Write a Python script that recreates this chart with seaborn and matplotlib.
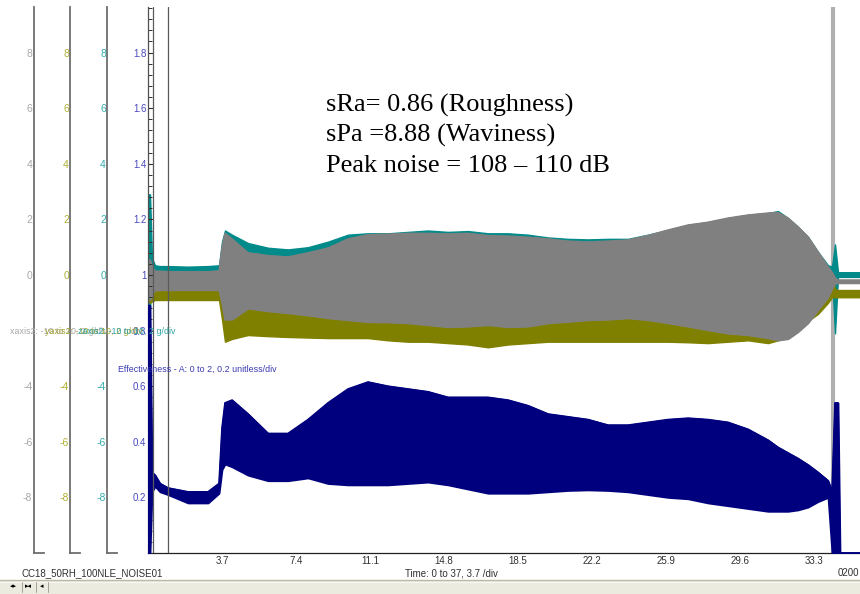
import matplotlib
matplotlib.use("Agg")
import matplotlib.pyplot as plt
import seaborn as sns
import pandas as pd
from matplotlib.ticker import FixedLocator, MultipleLocator, FuncFormatter
from matplotlib.patches import Rectangle
from matplotlib.lines import Line2D

# ---------------- data ----------------
time_s = [0.0, 0.1, 0.2, 0.35, 0.6, 1, 2, 3, 3.55, 3.7, 3.85, 4.2, 5, 6, 7, 8, 9, 10,
          11, 12, 13, 14, 15, 16, 17, 18, 19, 20, 21, 22, 23, 24, 25, 26, 27, 28, 29,
          30, 31, 31.5, 32, 32.5, 33, 33.5, 34, 34.2, 34.35, 34.5, 34.6, 35, 35.6]

# channel "z" (teal), -10..10
teal_hi = [2.9, 2.9, 0.6, 0.35, 0.32, 0.32, 0.3, 0.32, 0.35, 1.2, 1.6, 1.45, 1.15, 0.98,
           0.92, 1.0, 1.2, 1.45, 1.5, 1.5, 1.55, 1.6, 1.55, 1.58, 1.5, 1.5, 1.45, 1.35,
           1.3, 1.28, 1.3, 1.3, 1.45, 1.62, 1.8, 1.9, 2.05, 2.16, 2.23, 2.3, 2.05, 1.73,
           1.37, 0.83, 0.35, 0.3, 1.1, 0.1, 0.1, 0.1, 0.1]
teal_lo = [-1.2, -1.2, 0.14, 0.14, 0.14, 0.12, 0.12, 0.12, 0.15, 0.0, 0.0, 0.0, 0.0, 0.0,
           0.0, 0.0, 0.0, 0.0, 0.0, 0.0, 0.0, 0.0, 0.0, 0.0, 0.0, 0.0, 0.0, 0.0,
           0.0, 0.0, 0.0, 0.0, 0.0, 0.0, 0.0, 0.0, 0.0, 0.0, 0.0, 0.0, 0.0, 0.0,
           0.0, 0.0, 0.0, 0.0, -2.1, -0.07, -0.07, -0.07, -0.07]

# channel "x" (gray)
gray_hi = [0.5, 0.55, 0.3, 0.14, 0.14, 0.12, 0.12, 0.12, 0.15, 1.0, 1.5, 1.3, 0.8, 0.7,
           0.65, 0.8, 0.97, 1.3, 1.45, 1.47, 1.5, 1.5, 1.48, 1.5, 1.42, 1.4, 1.36, 1.3,
           1.22, 1.19, 1.22, 1.26, 1.42, 1.62, 1.8, 1.9, 2.05, 2.16, 2.23, 2.25, 2.05,
           1.73, 1.37, 0.83, 0.29, 0.1, -0.1, -0.18, -0.18, -0.18, -0.18]
gray_lo = [-0.6, -0.9, -0.7, -0.55, -0.54, -0.54, -0.54, -0.54, -0.54, -1.0, -1.6, -1.6,
           -1.2, -1.3, -1.37, -1.45, -1.55, -1.62, -1.69, -1.7, -1.73, -1.8, -1.87, -1.85,
           -1.8, -1.87, -1.85, -1.73, -1.68, -1.62, -1.6, -1.55, -1.62, -1.73, -1.85,
           -1.98, -2.1, -2.16, -2.27, -2.35, -2.3, -2.05, -1.73, -1.26, -0.8, -0.5, -0.3,
           -0.29, -0.29, -0.29, -0.29]

# channel "y" (olive)
olive_hi = [-0.6, -0.9, -0.7, -0.55, -0.54, -0.54, -0.54, -0.54, -0.54, 0.0, 0.0, 0.0,
            0.0, 0.0, 0.0, 0.0, 0.0, 0.0, 0.0, 0.0, 0.0, 0.0, 0.0, 0.0, 0.0, 0.0, 0.0,
            0.0, 0.0, 0.0, 0.0, 0.0, 0.0, 0.0, 0.0, 0.0, 0.0, 0.0, 0.0, 0.0, 0.0, 0.0,
            0.0, 0.0, 0.0, 0.0, -0.5, -0.54, -0.54, -0.54, -0.54]
olive_lo = [-0.9, -1.0, -0.95, -0.9, -0.9, -0.9, -0.9, -0.9, -0.9, -1.6, -2.4, -2.3,
            -2.16, -2.2, -2.23, -2.25, -2.27, -2.27, -2.27, -2.35, -2.4, -2.4, -2.45, -2.5,
            -2.6, -2.5, -2.45, -2.4, -2.4, -2.4, -2.4, -2.4, -2.4, -2.4, -2.42, -2.45,
            -2.4, -2.35, -2.45, -2.35, -2.2, -1.95, -1.65, -1.4, -1.0, -0.8, -0.8, -0.8,
            -0.8, -0.8, -0.8]

# Effectiveness (navy), unitless 0..2
eff_hi = [0.89, 0.89, 0.29, 0.28, 0.25, 0.234, 0.22, 0.22, 0.25, 0.45, 0.54, 0.55, 0.5,
          0.43, 0.43, 0.48, 0.54, 0.59, 0.615, 0.6, 0.59, 0.58, 0.56, 0.56, 0.56, 0.55,
          0.53, 0.5, 0.49, 0.48, 0.46, 0.46, 0.47, 0.48, 0.485, 0.48, 0.47, 0.445, 0.406,
          0.38, 0.36, 0.34, 0.317, 0.29, 0.26, 0.22, 0.54, 0.54, 0.0, 0.0, 0.0]
eff_lo = [0.0, 0.0, 0.22, 0.24, 0.22, 0.21, 0.18, 0.18, 0.215, 0.3, 0.32, 0.31, 0.28,
          0.26, 0.26, 0.27, 0.25, 0.245, 0.245, 0.245, 0.25, 0.255, 0.245, 0.23, 0.215,
          0.215, 0.215, 0.22, 0.225, 0.227, 0.225, 0.22, 0.21, 0.2, 0.195, 0.18, 0.17,
          0.16, 0.15, 0.15, 0.15, 0.155, 0.165, 0.185, 0.2, 0.0, 0.0, 0.0, 0.0, 0.0, 0.0]

x_major = [0, 3.7, 7.4, 11.1, 14.8, 18.5, 22.2, 25.9, 29.6, 33.3]
v_ticks = [-8, -6, -4, -2, 0, 2, 4, 6, 8]
e_ticks = [0.2, 0.4, 0.6, 0.8, 1.0, 1.2, 1.4, 1.6, 1.8]
cursor_lines = [0.25, 0.98]
end_marker = 34.27

notes = ["sRa= 0.86 (Roughness)", "sPa =8.88 (Waviness)", "Peak noise = 108 \u2013 110 dB"]

# ---------------- style ----------------
sns.set_style("white")
plt.rcParams["font.family"] = ["Liberation Sans", "DejaVu Sans"]

TEAL, OLIVE, GRAY, NAVY = "#008a8a", "#808000", "#808080", "#00007f"

W, H = 860, 594
fig = plt.figure(figsize=(W / 100, H / 100), dpi=100)
fig.patch.set_facecolor("white")


def fx(x):
    return x / W


def fy(y):
    return 1 - y / H


V_MIN, V_MAX = -10, 9.64
E_MIN, E_MAX = 0, 1.964
T_MAX = 35.6

df = pd.DataFrame(dict(t=time_s, teal_hi=teal_hi, teal_lo=teal_lo, gray_hi=gray_hi,
                       gray_lo=gray_lo, olive_hi=olive_hi, olive_lo=olive_lo,
                       eff_hi=eff_hi, eff_lo=eff_lo))

ax = fig.add_axes([fx(148), fy(553), fx(860) - fx(148), fy(7) - fy(553)])
ax.set_facecolor("none")
ax.set_xlim(0, T_MAX)
ax.set_ylim(V_MIN, V_MAX)

ax.axvline(end_marker, color="#b0b0b0", lw=3, zorder=1)

ax.fill_between(df.t, df.teal_lo, df.teal_hi, color=TEAL, lw=1, edgecolor=TEAL, zorder=2)
ax.fill_between(df.t, df.olive_lo, df.olive_hi, color=OLIVE, lw=1, edgecolor=OLIVE, zorder=3)
ax.fill_between(df.t, df.gray_lo, df.gray_hi, color=GRAY, lw=1, edgecolor=GRAY, zorder=4)
sns.lineplot(data=df, x="t", y="gray_hi", ax=ax, color=GRAY, lw=1, estimator=None,
             sort=False, legend=False, zorder=4.5)
sns.lineplot(data=df, x="t", y="gray_lo", ax=ax, color=GRAY, lw=1, estimator=None,
             sort=False, legend=False, zorder=4.5)

axb = ax.twinx()
axb.set_ylim(E_MIN, E_MAX)
axb.fill_between(df.t, df.eff_lo, df.eff_hi, color=NAVY, lw=1.3, edgecolor=NAVY, zorder=3)
sns.lineplot(data=df, x="t", y="eff_hi", ax=axb, color=NAVY, lw=1.2, estimator=None,
             sort=False, legend=False, zorder=3.5)
for c in cursor_lines:
    axb.axvline(c, color="#5a5a5a", lw=0.9, zorder=6)

for a in (ax, axb):
    a.set_xlabel("")
    a.set_ylabel("")
    a.grid(False)
    a.spines["top"].set_visible(False)
    a.spines["right"].set_visible(False)

ax.spines["left"].set_visible(False)
ax.spines["bottom"].set_color("#202020")
ax.spines["bottom"].set_linewidth(0.9)
axb.spines["bottom"].set_visible(False)
axb.spines["left"].set_color("#505050")
axb.spines["left"].set_linewidth(0.9)

ax.set_yticks([])
ax.xaxis.set_major_locator(FixedLocator(x_major))
ax.xaxis.set_minor_locator(MultipleLocator(0.74))
ax.xaxis.set_major_formatter(FuncFormatter(lambda v, p: "" if v == 0 else f"{v:.1f}"))
ax.tick_params(axis="x", which="major", direction="in", length=4.3, width=0.8,
               color="#303030", labelsize=7, labelcolor="#303030", pad=2)
ax.tick_params(axis="x", which="minor", direction="in", length=2.2, width=0.7,
               color="#303030")

axb.yaxis.tick_left()
axb.yaxis.set_label_position("left")
axb.yaxis.set_major_locator(FixedLocator(e_ticks))
axb.yaxis.set_minor_locator(MultipleLocator(0.04))
axb.yaxis.set_major_formatter(FuncFormatter(lambda v, p: "1" if abs(v - 1) < 1e-9 else f"{v:.1f}"))
axb.tick_params(axis="y", which="major", direction="in", length=3.8, width=0.8,
                color="#303030", labelsize=7, labelcolor="#4848c0", pad=1.2)
axb.tick_params(axis="y", which="minor", direction="in", length=2.8, width=0.7,
                color="#303030")

# three stacked left value axes (the -2 labels are hidden under the channel captions)
for x0, col in [(33.5, "#a8a8a8"), (70, "#b0b032"), (107, "#34acac")]:
    la = fig.add_axes([fx(x0), fy(553), 10 / W, fy(7) - fy(553)])
    la.set_facecolor("none")
    la.set_ylim(V_MIN, V_MAX)
    la.set_xlim(0, 1)
    la.spines["top"].set_visible(False)
    la.spines["right"].set_visible(False)
    for s in ("left", "bottom"):
        la.spines[s].set_color("#6e6e6e")
        la.spines[s].set_linewidth(1.3)
    la.set_xticks([])
    la.set_yticks(v_ticks)
    la.yaxis.set_major_formatter(FuncFormatter(lambda v, p: "" if v == -2 else f"{int(v)}"))
    la.tick_params(axis="y", direction="in", length=7, width=1.1, color="#6e6e6e",
                   labelcolor=col, labelsize=7.5, pad=0.8)

# overlapping channel captions (they overlap in the original display as well)
for x0, col, lab in [(10, "#a8a8a8", "xaxis2: -10 to 10, 2 g/div"),
                     (45, "#a4a430", "yaxis2: -10 to 10, 2 g/div"),
                     (78, "#30a4a4", "zaxis2: -10 to 10, 2 g/div")]:
    fig.text(fx(x0), fy(331), lab, color=col, fontsize=6.4, va="center", ha="left")
fig.text(fx(118), fy(369), "Effectiveness - A: 0 to 2, 0.2 unitless/div",
         color="#3a3ab0", fontsize=6.4, va="center", ha="left")

# annotation block
for i, s in enumerate(notes):
    fig.text(fx(326), fy(112 + 30 * i), s, family=["Liberation Serif", "DejaVu Serif"],
             fontsize=19, va="baseline", ha="left", color="black")

# footer texts
fig.text(fx(22), fy(573), "CC18_50RH_100NLE_NOISE01", fontsize=7, color="#303030",
         va="center", ha="left")
fig.text(fx(405), fy(573), "Time: 0 to 37, 3.7 /div", fontsize=7, color="#303030",
         va="center", ha="left")
fig.text(fx(838), fy(573), "0200", fontsize=7, color="#303030", va="center", ha="left")

# scroll bar strip
fig.add_artist(Rectangle((0, 0), 1, 14 / H, transform=fig.transFigure,
                         facecolor="#ecebdf", edgecolor="none", zorder=0))
fig.add_artist(Line2D([0, 1], [14 / H, 14 / H], transform=fig.transFigure,
                      color="#bdb9aa", lw=1))
fig.add_artist(Line2D([0, 1], [12 / H, 12 / H], transform=fig.transFigure,
                      color="#f8f8f2", lw=0.8))
fig.text(fx(10), fy(587), "\u25c2\u25b8", fontsize=5, color="black", va="center")
fig.text(fx(25), fy(587), "\u25b8\u25c2", fontsize=5, color="black", va="center")
fig.text(fx(40), fy(587), "\u25c2", fontsize=5, color="black", va="center")
for xs in (22, 36, 48):
    fig.add_artist(Line2D([fx(xs), fx(xs)], [fy(592), fy(582)], transform=fig.transFigure,
                          color="#9a9688", lw=0.6))

fig.savefig("out.png", dpi=100, facecolor="white")
